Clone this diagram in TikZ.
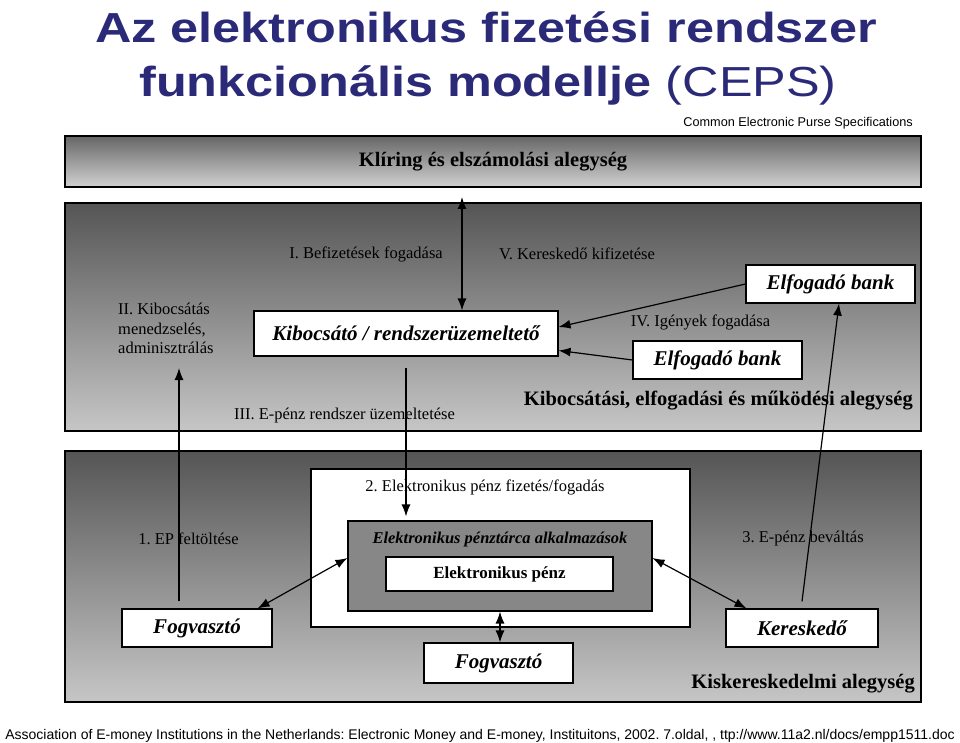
\documentclass[tikz,border=0pt]{standalone}
\usepackage{fontspec}
\setmainfont{Liberation Serif}
\newfontfamily\cepstitlefont[FakeStretch=1.2]{Liberation Sans}
\newfontfamily\cepsnotefont{Liberation Sans}
\usetikzlibrary{arrows.meta}
\frenchspacing
\definecolor{cepsnavy}{HTML}{2B2A78}
\definecolor{cepsdark}{HTML}{555555}
\definecolor{cepslight}{HTML}{C6C6C6}
\definecolor{cepswallet}{HTML}{878787}
\newcommand{\cepslabel}{\fontsize{16.5}{19.5}\selectfont}
\newcommand{\cepsunit}{\fontsize{20.5}{24}\selectfont\bfseries}
\newcommand{\cepsactor}{\fontsize{21}{24}\selectfont\bfseries\itshape}
\tikzset{
  unitbox/.style={
    draw=black,
    line width=1.3pt,
    inner sep=0pt,
    top color=cepsdark,
    bottom color=cepslight
  },
  actorbox/.style={
    draw=black,
    line width=1.1pt,
    fill=white,
    inner sep=0pt,
    font=\cepsactor
  },
  steplabel/.style={font=\cepslabel, inner sep=0pt, align=left},
  unitlabel/.style={font=\cepsunit, inner sep=0pt, anchor=east},
  flowarrow/.style={
    -{Latex[length=12pt,width=9pt]},
    line width=1.2pt
  },
  dualarrow/.style={
    {Latex[length=12pt,width=9pt]}-{Latex[length=12pt,width=9pt]},
    line width=1.2pt
  }
}

\begin{document}
\begin{tikzpicture}[x=1pt,y=-1pt]
\useasboundingbox (0,0) rectangle (960,743);

\node[text=cepsnavy, font=\cepstitlefont\fontsize{42}{48}\selectfont\bfseries, anchor=base, inner sep=0pt]
  (title1) at (486,43) {Az elektronikus fizetési rendszer};
\node[text=cepsnavy, font=\cepstitlefont\fontsize{42}{48}\selectfont, anchor=base, inner sep=0pt]
  (title2) at (488,97) {\textbf{funkcionális modellje} (CEPS)};
\node[font=\cepsnotefont\fontsize{12.7}{15}\selectfont, anchor=base east, inner sep=0pt]
  (subtitle) at (913,126.5) {Common Electronic Purse Specifications};

\node[unitbox, top color=cepsdark!90, bottom color=cepslight!80, minimum width=856pt, minimum height=51pt, font=\cepsunit]
  (clearing) at (493,161.5) {Klíring és elszámolási alegység};
\node[unitbox, minimum width=856pt, minimum height=228pt] (opunit) at (493,317) {};
\node[unitbox, minimum width=856pt, minimum height=251pt] (retail) at (493,576.5) {};

\node[actorbox, minimum width=304pt, minimum height=45pt] (issuer) at (406,333.5)
  {Kibocsátó / rendszerüzemeltető};
\node[actorbox, minimum width=169pt, minimum height=38pt] (bankA) at (830.5,284) {Elfogadó bank};
\node[actorbox, minimum width=169pt, minimum height=38pt] (bankB) at (717.5,360) {Elfogadó bank};

\node[steplabel] (lblI) at (366,254) {I. Befizetések fogadása};
\node[steplabel] (lblV) at (577,254) {V. Kereskedő kifizetése};
\node[steplabel, anchor=west] (lblII) at (118,328.5) {II. Kibocsátás\\menedzselés,\\adminisztrálás};
\node[steplabel] (lblIV) at (700.5,322) {IV. Igények fogadása};
\node[steplabel] (lblIII) at (344.5,416) {III. E-pénz rendszer üzemeltetése};
\node[unitlabel] (opunitlbl) at (913,401) {Kibocsátási, elfogadási és működési alegység};

\node[draw=black, line width=1.1pt, fill=white, minimum width=379pt, minimum height=158pt] (appbox) at (500.5,548) {};
\node[draw=black, line width=1.1pt, fill=cepswallet, minimum width=304pt, minimum height=90pt] (wallet) at (500,566) {};
\node[font=\fontsize{16.5}{20}\selectfont\bfseries\itshape, inner sep=0pt] (walletlbl) at (500,540)
  {Elektronikus pénztárca alkalmazások};
\node[actorbox, font=\fontsize{17}{20}\selectfont\bfseries, minimum width=227pt, minimum height=34pt] (epenz) at (499.5,574)
  {Elektronikus pénz};

\node[actorbox, minimum width=150pt, minimum height=38pt] (consumerL) at (197,628) {Fogvasztó};
\node[actorbox, minimum width=149pt, minimum height=40pt] (consumerB) at (498.5,663) {Fogvasztó};
\node[actorbox, minimum width=152pt, minimum height=38pt] (merchant) at (802,628) {Kereskedő};

\node[steplabel] (lbl2) at (485,487) {2. Elektronikus pénz fizetés/fogadás};
\node[steplabel] (lbl1) at (188.5,539) {1. EP feltöltése};
\node[steplabel] (lbl3) at (803,539) {3. E-pénz beváltás};
\node[unitlabel] (retaillbl) at (915,684) {Kiskereskedelmi alegység};

\node[font=\cepsnotefont\fontsize{14}{16}\selectfont, inner sep=0pt] (source) at (480,736)
  {Association of E-money Institutions in the Netherlands: Electronic Money and E-money, Instituitons, 2002. 7.oldal, , ttp://www.11a2.nl/docs/empp1511.doc};

\coordinate (clrfoot) at (462,197);
\coordinate (mgmtfoot) at (179,368);

\draw[dualarrow] (clrfoot) -- (clrfoot |- issuer.north);
\draw[flowarrow] (bankA.west) -- ([yshift=6.5pt]issuer.east);
\draw[flowarrow] (bankB.west) -- ([yshift=-17pt]issuer.east);
\draw[flowarrow, shorten >=4pt] ([yshift=-11pt]issuer.south) -- (issuer.south |- wallet.north);
\draw[flowarrow] ([xshift=-18pt,yshift=7pt]consumerL.north) -- (mgmtfoot);
\draw[flowarrow] ([yshift=7pt]merchant.north) -- ([xshift=8.5pt]bankA.south);
\draw[dualarrow] ([xshift=-15pt]consumerL.north east) -- ([yshift=8pt]wallet.west);
\draw[dualarrow] ([yshift=8pt]wallet.east) -- ([xshift=21pt]merchant.north west);
\draw[dualarrow] (wallet.south) -- (wallet.south |- consumerB.north);
\end{tikzpicture}
\end{document}
